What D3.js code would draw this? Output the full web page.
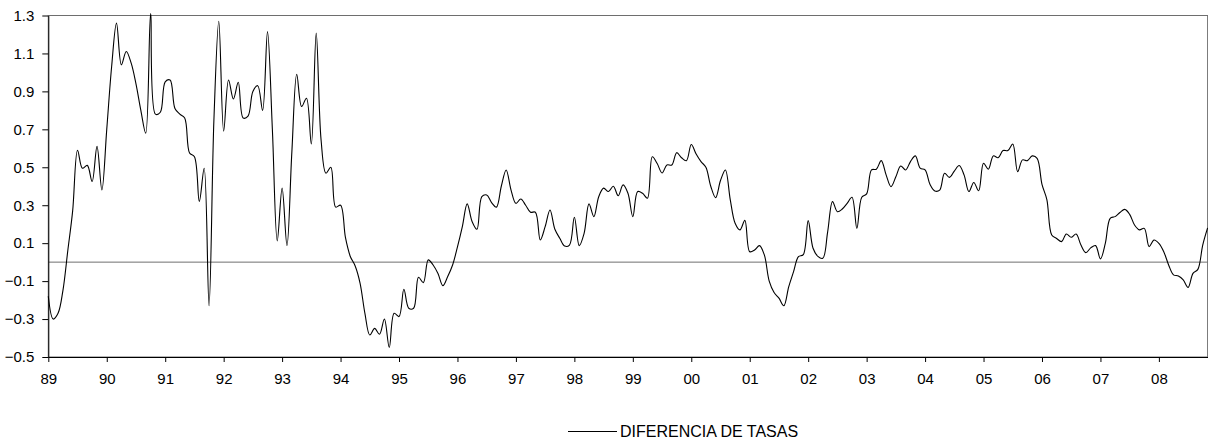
<!DOCTYPE html>
<html>
<head>
<meta charset="utf-8">
<script src="https://cdn.jsdelivr.net/npm/d3@7"></script>
<style>
  html, body { margin: 0; padding: 0; background: #fff; }
  svg { display: block; }
  text { font-family: Arial, "Liberation Sans", sans-serif; fill: #000; }
</style>
</head>
<body>
<svg id="chart" width="1208" height="441"></svg>
<script>
// Year tick labels (one every 12 monthly observations, starting Jan 1989)
const yearLabels = ["89","90","91","92","93","94","95","96","97","98","99","00","01","02","03","04","05","06","07","08"];
const yTicks = [-0.5, -0.3, -0.1, 0.1, 0.3, 0.5, 0.7, 0.9, 1.1, 1.3];
const seriesName = "DIFERENCIA DE TASAS";

// Monthly values, Jan 1989 – Nov 2008
const v1989 = [-0.18, -0.30, -0.27, -0.15, 0.06, 0.27, 0.59, 0.495, 0.51, 0.425, 0.61, 0.38];
const v1990 = [0.70, 1.03, 1.26, 1.04, 1.11, 1.05, 0.94, 0.80, 0.68, 1.31, 0.78, 0.79];
const v1991 = [0.95, 0.96, 0.81, 0.78, 0.76, 0.575, 0.556, 0.32, 0.495, -0.23, 0.75, 1.27];
const v1992 = [0.69, 0.96, 0.86, 0.948, 0.76, 0.77, 0.90, 0.93, 0.80, 1.215, 0.70, 0.112];
const v1993 = [0.39, 0.087, 0.58, 0.99, 0.82, 0.864, 0.623, 1.207, 0.644, 0.469, 0.50, 0.29];
const v1994 = [0.30, 0.13, 0.03, -0.02, -0.11, -0.27, -0.384, -0.349, -0.38, -0.30, -0.45, -0.27];
const v1995 = [-0.287, -0.143, -0.243, -0.243, -0.08, -0.108, 0.012, -0.015, -0.06, -0.124, -0.076, -0.015];
const v1996 = [0.08, 0.187, 0.307, 0.214, 0.173, 0.345, 0.354, 0.314, 0.29, 0.40, 0.486, 0.38];
const v1997 = [0.31, 0.333, 0.30, 0.263, 0.263, 0.117, 0.187, 0.275, 0.173, 0.126, 0.085, 0.09];
const v1998 = [0.237, 0.087, 0.152, 0.307, 0.24, 0.345, 0.39, 0.372, 0.40, 0.35, 0.407, 0.363];
const v1999 = [0.24, 0.372, 0.363, 0.337, 0.555, 0.52, 0.47, 0.512, 0.512, 0.577, 0.55, 0.535];
const v2000 = [0.62, 0.57, 0.53, 0.50, 0.40, 0.34, 0.43, 0.486, 0.33, 0.205, 0.17, 0.22];
const v2001 = [0.055, 0.064, 0.087, 0.038, -0.10, -0.16, -0.19, -0.23, -0.13, -0.05, 0.029, 0.04];
const v2002 = [0.219, 0.073, 0.03, 0.02, 0.16, 0.319, 0.266, 0.28, 0.31, 0.342, 0.178, 0.342];
const v2003 = [0.36, 0.486, 0.49, 0.535, 0.46, 0.398, 0.45, 0.507, 0.486, 0.53, 0.56, 0.495];
const v2004 = [0.486, 0.41, 0.375, 0.38, 0.468, 0.447, 0.48, 0.509, 0.46, 0.372, 0.42, 0.376];
const v2005 = [0.521, 0.49, 0.56, 0.55, 0.588, 0.588, 0.623, 0.477, 0.539, 0.535, 0.56, 0.547];
const v2006 = [0.41, 0.33, 0.143, 0.125, 0.108, 0.148, 0.131, 0.148, 0.09, 0.05, 0.075, 0.087];
const v2007 = [0.017, 0.099, 0.231, 0.24, 0.262, 0.278, 0.252, 0.196, 0.17, 0.178, 0.082, 0.117];
const v2008 = [0.099, 0.055, -0.015, -0.067, -0.073, -0.094, -0.133, -0.059, -0.038, 0.09, 0.18];

const values = [].concat(v1989, v1990, v1991, v1992, v1993, v1994, v1995, v1996, v1997, v1998,
  v1999, v2000, v2001, v2002, v2003, v2004, v2005, v2006, v2007, v2008);

const svg = d3.select("#chart");
const plot = { left: 48.3, right: 1207.6, top: 15.5, bottom: 357 };
const axisFont = "15px";

const x = d3.scaleLinear().domain([0, values.length - 1]).range([plot.left, plot.right]);
const y = d3.scaleLinear().domain([-0.5, 1.3]).range([plot.bottom, plot.top]);

// Plot frame (top/right in gray)
svg.append("rect")
  .attr("x", plot.left).attr("y", plot.top)
  .attr("width", plot.right - plot.left).attr("height", plot.bottom - plot.top)
  .attr("fill", "none").attr("stroke", "#6e6e6e").attr("stroke-width", 1);

// Zero line
svg.append("line")
  .attr("x1", plot.left).attr("x2", plot.right)
  .attr("y1", y(0)).attr("y2", y(0))
  .attr("stroke", "#6e6e6e").attr("stroke-width", 1);

// Y axis
const yAxis = d3.axisLeft(y).tickValues(yTicks).tickSize(6).tickSizeOuter(0)
  .tickFormat(d => d3.format(".1f")(d));
const gy = svg.append("g").attr("transform", `translate(${plot.left},0)`).call(yAxis);
gy.select(".domain").attr("stroke", "#000");
gy.selectAll(".tick line").attr("stroke", "#000");
gy.selectAll(".tick text").attr("x", -14).attr("font-size", axisFont)
  .attr("font-family", "Arial, 'Liberation Sans', sans-serif");

// X axis
const xTickIdx = yearLabels.map((_, i) => i * 12);
const xAxis = d3.axisBottom(x).tickValues(xTickIdx).tickSize(5).tickSizeOuter(0)
  .tickFormat((d, i) => yearLabels[i]);
const gx = svg.append("g").attr("transform", `translate(0,${plot.bottom})`).call(xAxis);
gx.select(".domain").attr("stroke", "#000");
gx.selectAll(".tick line").attr("stroke", "#000");
gx.selectAll(".tick text").attr("y", 16).attr("font-size", axisFont)
  .attr("font-family", "Arial, 'Liberation Sans', sans-serif");

// Series line
const line = d3.line()
  .x((d, i) => x(i))
  .y(d => y(d))
  .curve(d3.curveCatmullRom.alpha(0.5));

svg.append("path")
  .datum(values)
  .attr("d", line)
  .attr("fill", "none")
  .attr("stroke", "#000")
  .attr("stroke-width", 1.1);

// Legend
const leg = svg.append("g").attr("transform", "translate(568,431.5)");
leg.append("line").attr("x1", 0).attr("x2", 49).attr("y1", 0).attr("y2", 0)
  .attr("stroke", "#000").attr("stroke-width", 1);
leg.append("text").attr("x", 52).attr("y", 0).attr("dy", "0.35em")
  .attr("font-size", "16px").text(seriesName);
</script>
</body>
</html>
